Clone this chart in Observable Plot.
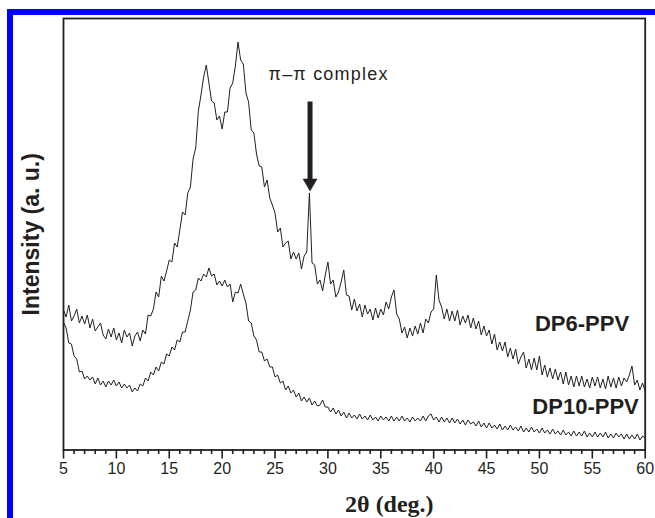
<!DOCTYPE html>
<html>
<head>
<meta charset="utf-8">
<script src="https://cdn.jsdelivr.net/npm/d3@7"></script>
<script src="https://cdn.jsdelivr.net/npm/@observablehq/plot@0.6"></script>
<style>
html,body{margin:0;padding:0;background:#fff;width:655px;height:518px;overflow:hidden}
#chart{position:relative;width:655px;height:518px}
#edge{position:absolute;left:7px;top:9px;right:0;bottom:0;border-top:6px solid #0000ff;border-left:6px solid #0000ff;pointer-events:none}
</style>
</head>
<body>
<div id="chart"><div id="edge"></div></div>
<script>
// 2θ sampling positions (deg.)
const twoTheta = [
5,5.25,5.5,5.75, 6,6.25,6.5,6.75, 7,7.25,7.5,7.75, 8,8.25,8.5,8.75, 9,9.25,9.5,9.75,
10,10.25,10.5,10.75, 11,11.25,11.5,11.75, 12,12.25,12.5,12.75, 13,13.25,13.5,13.75, 14,14.25,14.5,14.75,
15,15.25,15.5,15.75, 16,16.25,16.5,16.75, 17,17.25,17.5,17.75, 18,18.25,18.5,18.75, 19,19.25,19.5,19.75,
20,20.25,20.5,20.75, 21,21.25,21.5,21.75, 22,22.25,22.5,22.75, 23,23.25,23.5,23.75, 24,24.25,24.5,24.75,
25,25.25,25.5,25.75, 26,26.25,26.5,26.75, 27,27.25,27.5,27.75, 28,28.25,28.5,28.75, 29,29.25,29.5,29.75,
30,30.25,30.5,30.75, 31,31.25,31.5,31.75, 32,32.25,32.5,32.75, 33,33.25,33.5,33.75, 34,34.25,34.5,34.75,
35,35.25,35.5,35.75, 36,36.25,36.5,36.75, 37,37.25,37.5,37.75, 38,38.25,38.5,38.75, 39,39.25,39.5,39.75,
40,40.25,40.5,40.75, 41,41.25,41.5,41.75, 42,42.25,42.5,42.75, 43,43.25,43.5,43.75, 44,44.25,44.5,44.75,
45,45.25,45.5,45.75, 46,46.25,46.5,46.75, 47,47.25,47.5,47.75, 48,48.25,48.5,48.75, 49,49.25,49.5,49.75,
50,50.25,50.5,50.75, 51,51.25,51.5,51.75, 52,52.25,52.5,52.75, 53,53.25,53.5,53.75, 54,54.25,54.5,54.75,
55,55.25,55.5,55.75, 56,56.25,56.5,56.75, 57,57.25,57.5,57.75, 58,58.25,58.5,58.75, 59,59.25,59.5,59.75,
60
];

// DP6-PPV intensity (a. u.)
const dp6 = [
140,133,145,129, 134,141,127,134, 126,135,122,131, 119,123,127,115, 111,121,113,122,
110,117,107,120, 113,117,104,114, 118,109,120,116, 135,134,141,158, 153,174,169,179,
190,188,207,203, 220,238,235,257, 263,291,302,339, 355,373,385,367, 349,347,330,334,
321,338,338,362, 367,384,408,390, 386,357,348,320, 317,296,284,283, 263,270,252,245,
237,218,222,203, 207,209,191,198, 191,197,181,194, 198,257,187,185, 166,170,159,175,
188,166,170,153, 158,168,180,155, 154,140,151,139, 146,133,145,136, 141,130,142,132,
141,135,148,141, 153,160,136,131, 117,123,112,122, 114,124,116,127, 117,131,127,138,
141,175,150,143, 131,141,129,139, 129,140,125,134, 127,135,122,132, 121,129,115,124,
114,120,106,116, 100,108,99,108, 93,102,91,101, 86,93,98,82, 91,80,92,80,
94,75,85,73, 82,71,81,70, 78,66,78,65, 74,63,74,64, 74,63,71,62,
73,64,73,62, 71,61,74,63, 72,62,73,64, 72,68,75,84, 65,70,60,67,
59
];

// DP10-PPV intensity (a. u.)
const dp10 = [
128,122,107,106, 94,91,78,79, 71,74,70,73, 66,72,65,69, 63,69,65,70,
64,68,62,66, 62,65,58,62, 59,66,64,72, 69,78,75,83, 79,88,86,96,
94,103,100,110, 108,118,118,129, 140,158,160,172, 169,176,173,182, 174,176,165,169,
164,170,163,166, 148,158,157,166, 156,147,129,127, 114,110,98,98, 89,91,83,83,
73,75,67,69, 60,64,57,60, 53,57,49,53, 48,52,45,49, 44,45,50,43,
43,38,42,36, 40,34,38,32, 37,32,35,31, 36,31,34,30, 35,30,33,29,
34,30,33,29, 34,29,33,29, 34,29,32,28, 33,29,32,29, 34,29,34,36,
30,33,28,33, 28,32,27,32, 27,31,26,30, 25,30,26,28, 24,29,23,27,
22,27,22,25, 21,26,20,24, 20,25,20,23, 19,24,18,22, 18,23,18,21,
17,22,17,20, 16,21,16,19, 15,20,15,18, 14,19,14,18, 14,19,13,17,
13,18,13,17, 13,18,12,16, 12,17,13,16, 11,16,11,15, 11,16,10,14,
12
];

const majorTicks = [5,10,15,20,25,30,35,40,45,50,55,60];
const minorTicks = [6,7,8,9,11,12,13,14,16,17,18,19,21,22,23,24,26,27,28,29,31,32,33,34,36,37,38,39,41,42,43,44,46,47,48,49,51,52,53,54,56,57,58,59];

const seriesLabels = [
  {name: "DP6-PPV", t: 54.03, v: 126},
  {name: "DP10-PPV", t: 54.36, v: 43.5}
];
const annotation = {text: "π–π complex", t: 30.06, v: 375.5};
const arrowAt = {t: 28.31, from: 348, to: 270, head: 267};

const ink = "#231f20";
const rows6 = twoTheta.map((t, i) => ({t, v: dp6[i]}));
const rows10 = twoTheta.map((t, i) => ({t, v: dp10[i]}));

const chart = Plot.plot({
  width: 655,
  height: 518,
  marginLeft: 63,
  marginRight: 10.3,
  marginTop: 18,
  marginBottom: 68.5,
  style: {fontFamily: "'Liberation Sans', Arial, sans-serif", fontSize: "15px", color: ink, background: "transparent", overflow: "visible"},
  x: {domain: [5, 60], axis: null},
  y: {domain: [0, 431.5], axis: null},
  marks: [
    Plot.line(rows10, {x: "t", y: "v", stroke: ink, strokeWidth: 1}),
    Plot.line(rows6, {x: "t", y: "v", stroke: ink, strokeWidth: 1}),
    Plot.axisX({ticks: minorTicks, tickSize: 4.5, tickFormat: () => "", stroke: ink, strokeWidth: 1.6, label: null}),
    Plot.axisX({ticks: majorTicks, tickSize: 9, tickFormat: () => "", stroke: ink, strokeWidth: 1.6, label: null}),
    Plot.text(majorTicks, {x: d => d, text: d => String(d), frameAnchor: "bottom", dy: 23.5, fontSize: 16, fill: ink}),
    Plot.frame({stroke: ink, strokeWidth: 1.8}),
    Plot.ruleX([arrowAt], {x: "t", y1: "from", y2: "to", stroke: ink, strokeWidth: 5}),
    Plot.dot([arrowAt], {x: "t", y: "head", symbol: "triangle", r: 5.2, rotate: 180, fill: ink, stroke: ink, strokeWidth: 0.5}),
    Plot.text([annotation], {x: "t", y: "v", text: "text", fontSize: 18, fill: ink}),
    Plot.text(seriesLabels, {x: "t", y: "v", text: "name", fontSize: 22, fontWeight: "bold", fill: ink}),
    Plot.text(["Intensity (a. u.)"], {frameAnchor: "left", textAnchor: "middle", dx: -32, rotate: -90, fontSize: 23, fontWeight: "bold", fill: ink}),
    Plot.text(["2θ (deg.)"], {frameAnchor: "bottom", dx: 35, dy: 62, fontSize: 24, fontWeight: "bold", fontFamily: "'Liberation Serif', 'Times New Roman', serif", fill: ink})
  ]
});
chart.style.position = "absolute";
chart.style.left = "0";
chart.style.top = "0";
for (const t of chart.querySelectorAll("text")) {
  if (t.textContent === annotation.text) t.style.letterSpacing = "1.2px";
}
document.getElementById("chart").prepend(chart);
</script>
</body>
</html>
